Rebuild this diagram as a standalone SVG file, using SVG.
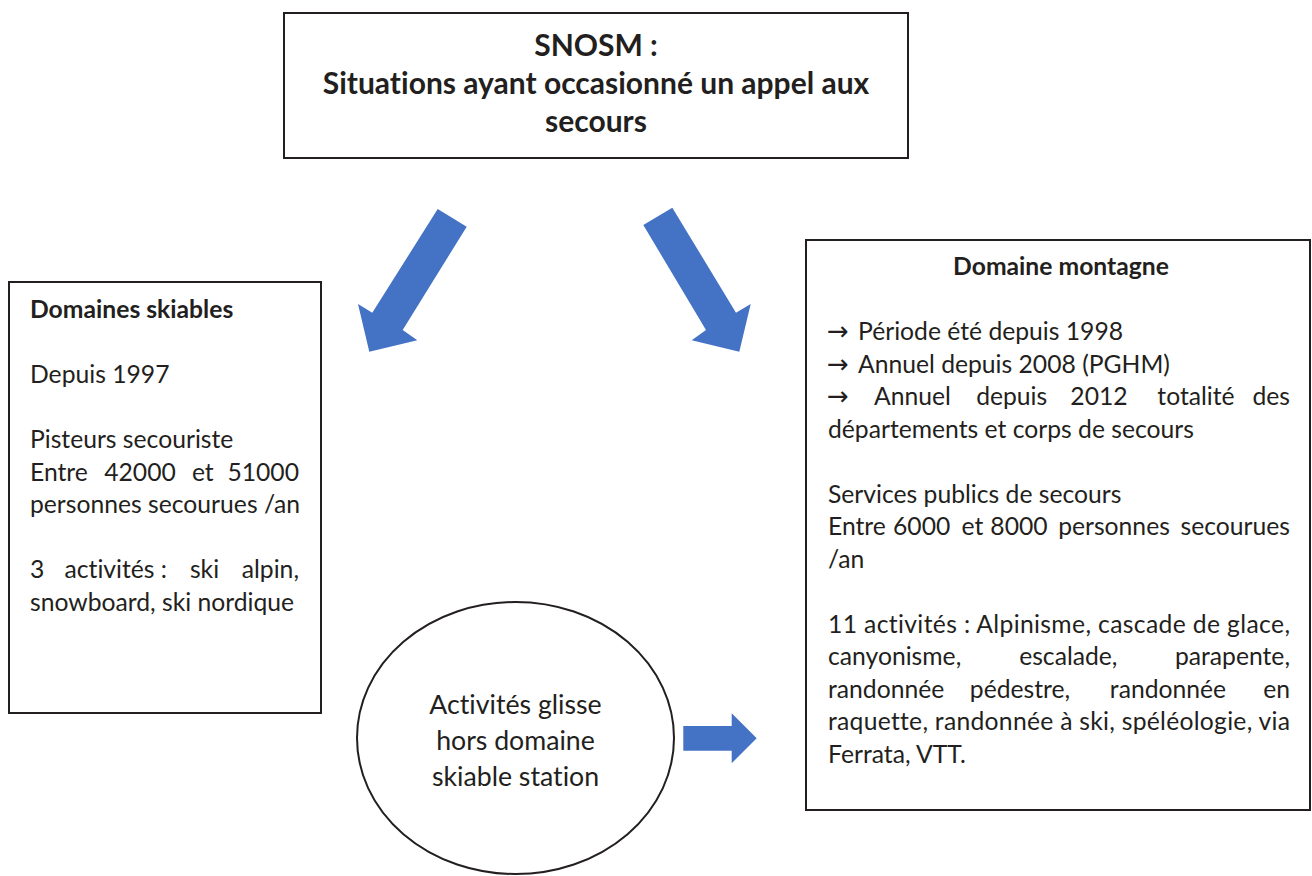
<svg xmlns="http://www.w3.org/2000/svg" width="1312" height="876" viewBox="0 0 1312 876">
<style>
  .box { fill: #ffffff; stroke: #231f20; stroke-width: 2; }
  .t { font-family: Lato, "Open Sans", "Liberation Sans", sans-serif; font-size: 24.7px; fill: #231f20; font-variant-ligatures: none; }
  .b { font-weight: bold; }
  .m { text-anchor: middle; }
  .e { text-anchor: end; }
  .ttl { font-size: 30px; }
  .ell { font-size: 26.7px; }
  .arr { font-family: "DejaVu Sans", sans-serif; font-size: 26px; fill: #231f20; }
  .blk { fill: #4472c4; }
</style>
<rect width="1312" height="876" fill="#ffffff"/>

<g id="node-snosm">
  <rect class="box" x="284" y="13" width="624" height="145"/>
  <text class="t b m ttl" x="596" y="56">SNOSM :</text>
  <text class="t b m ttl" x="596" y="94">Situations ayant occasionné un appel aux</text>
  <text class="t b m ttl" x="596" y="132">secours</text>
</g>

<g id="node-domaines-skiables">
  <rect class="box" x="9" y="282" width="312" height="431"/>
  <text class="t b" x="30" y="318">Domaines skiables</text>
  <text class="t" x="30" y="383">Depuis 1997</text>
  <text class="t" x="30" y="448">Pisteurs secouriste</text>
  <text class="t" x="30" y="480.5">Entre</text>
  <text class="t m" x="140" y="480.5">42000</text>
  <text class="t m" x="202.8" y="480.5">et</text>
  <text class="t e" x="299" y="480.5">51000</text>
  <text class="t" x="30" y="513">personnes secourues /an</text>
  <text class="t" x="30" y="578">3</text>
  <text class="t m" x="115.8" y="578">activités :</text>
  <text class="t m" x="204.5" y="578">ski</text>
  <text class="t e" x="299" y="578">alpin,</text>
  <text class="t" x="30" y="610.5">snowboard, ski nordique</text>
</g>

<g id="node-domaine-montagne">
  <rect class="box" x="806" y="240" width="504" height="570"/>
  <text class="t b m" x="1061" y="275">Domaine montagne</text>
  <text class="arr" x="827" y="340">→</text>
  <text class="t" x="858" y="340">Période été depuis 1998</text>
  <text class="arr" x="827" y="372.5">→</text>
  <text class="t" x="858" y="372.5">Annuel depuis 2008 (PGHM)</text>
  <text class="arr" x="827" y="405">→</text>
  <text class="t m" x="912.5" y="405">Annuel</text>
  <text class="t m" x="1011.7" y="405">depuis</text>
  <text class="t m" x="1099" y="405">2012</text>
  <text class="t m" x="1196" y="405">totalité</text>
  <text class="t e" x="1290" y="405">des</text>
  <text class="t" x="828" y="437.5">départements et corps de secours</text>
  <text class="t" x="828" y="502.5">Services publics de secours</text>
  <text class="t" x="828" y="535">Entre</text>
  <text class="t m" x="921.7" y="535">6000</text>
  <text class="t m" x="972.5" y="535">et</text>
  <text class="t m" x="1019" y="535">8000</text>
  <text class="t m" x="1114" y="535">personnes</text>
  <text class="t e" x="1290" y="535">secourues</text>
  <text class="t" x="828" y="567.5">/an</text>
  <text class="t" x="828" y="632.5" textLength="462" lengthAdjust="spacing">11 activités : Alpinisme, cascade de glace,</text>
  <text class="t" x="828" y="665">canyonisme,</text>
  <text class="t m" x="1068.3" y="665">escalade,</text>
  <text class="t e" x="1290" y="665">parapente,</text>
  <text class="t" x="828" y="697.5">randonnée</text>
  <text class="t m" x="1020" y="697.5">pédestre,</text>
  <text class="t m" x="1168" y="697.5">randonnée</text>
  <text class="t e" x="1290" y="697.5">en</text>
  <text class="t" x="828" y="730" textLength="462" lengthAdjust="spacing">raquette, randonnée à ski, spéléologie, via</text>
  <text class="t" x="828" y="762.5">Ferrata, VTT.</text>
</g>

<g id="node-hors-domaine">
  <ellipse class="box" cx="515.5" cy="738" rx="158.5" ry="136"/>
  <text class="t m ell" x="515.5" y="714">Activités glisse</text>
  <text class="t m ell" x="515.5" y="750">hors domaine</text>
  <text class="t m ell" x="515.5" y="786">skiable station</text>
</g>

<g id="connectors">
  <polygon class="blk" points="437.7,209 466.7,226.7 402.7,330 417.3,340.3 369.3,351.7 358,304 372.3,312.7"/>
  <polygon class="blk" points="643.3,225 672.3,207.7 736,312.7 750.7,304 739.3,351.7 691.7,340.3 706,330"/>
  <polygon class="blk" points="683.3,726 731.7,726 731.7,713.3 756.7,738.3 731.7,763.3 731.7,750.7 683.3,750.7"/>
</g>
</svg>
